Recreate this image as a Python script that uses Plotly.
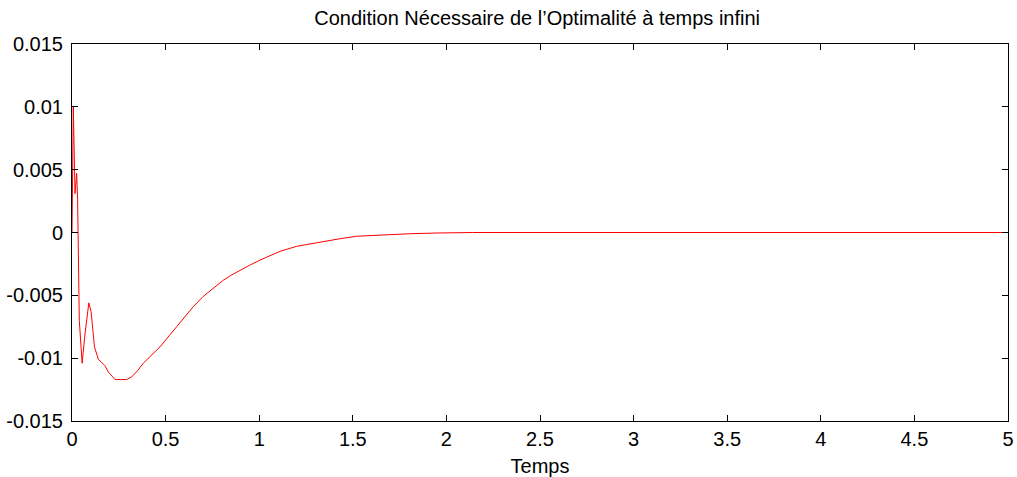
import plotly.graph_objects as go

# Time samples (s) and values
temps = [0.0, 0.007, 0.016, 0.025, 0.030, 0.039, 0.054, 0.070, 0.090, 0.102, 0.120,
         0.141, 0.156, 0.176, 0.194, 0.230, 0.260, 0.292, 0.318, 0.350, 0.381, 0.420,
         0.470, 0.520, 0.559, 0.600, 0.648, 0.700, 0.750, 0.808, 0.850, 0.897, 0.950,
         1.004, 1.050, 1.111, 1.200, 1.270, 1.342, 1.430, 1.520, 1.645, 1.800, 1.950,
         2.140, 2.500, 3.000, 3.500, 4.000, 4.500, 5.000]
valeurs = [0.0, 0.0100, 0.0031, 0.0047, 0.0026, -0.0070, -0.0104, -0.0080, -0.0056,
           -0.0063, -0.0091, -0.0101, -0.0103, -0.0106, -0.0111, -0.0117, -0.0117,
           -0.0117, -0.0115, -0.0110, -0.0104, -0.0098, -0.0091, -0.0082, -0.0075,
           -0.0067, -0.0059, -0.0051, -0.0045, -0.0038, -0.0034, -0.0030, -0.0026,
           -0.0022, -0.0019, -0.0015, -0.0011, -0.0009, -0.0007, -0.0005, -0.0003,
           -0.0002, -0.0001, -0.00004, 0.0, 0.0, 0.0, 0.0, 0.0, 0.0, 0.0]

x_ticks = [0, 0.5, 1, 1.5, 2, 2.5, 3, 3.5, 4, 4.5, 5]
x_labels = ["0", "0.5", "1", "1.5", "2", "2.5", "3", "3.5", "4", "4.5", "5"]
y_ticks = [-0.015, -0.01, -0.005, 0, 0.005, 0.01, 0.015]
y_labels = ["-0.015", "-0.01", "-0.005", "0", "0.005", "0.01", "0.015"]

fam = "Liberation Sans, Arial, sans-serif"
fig = go.Figure()
fig.add_trace(go.Scatter(x=temps, y=valeurs, mode="lines",
                         line=dict(color="#ff0000", width=1), showlegend=False))

fig.update_layout(
    width=1017, height=477,
    margin=dict(l=72, r=9, t=44, b=56),
    paper_bgcolor="white", plot_bgcolor="white",
    font=dict(family=fam, size=20, color="black"),
    title=dict(text="Condition Nécessaire de l’Optimalité à temps infini",
               x=0.497, xref="paper", xanchor="center", y=0.962, yanchor="middle",
               font=dict(size=20, color="black", family=fam)),
)
fig.update_xaxes(range=[0, 5], tickvals=x_ticks, ticktext=x_labels, automargin=False,
                 tickfont=dict(size=20, family=fam, color="black"),
                 showgrid=False, zeroline=False, showline=True, linecolor="black",
                 linewidth=1, mirror="ticks", ticks="inside", ticklen=6,
                 tickcolor="black",
                 title=dict(text="Temps", standoff=9,
                            font=dict(size=20, family=fam, color="black")))
fig.update_yaxes(range=[-0.015, 0.015], tickvals=y_ticks, ticktext=y_labels,
                 automargin=False,
                 tickfont=dict(size=20, family=fam, color="black"),
                 ticklabelstandoff=4,
                 showgrid=False, zeroline=False, showline=True, linecolor="black",
                 linewidth=1, mirror="ticks", ticks="inside", ticklen=6,
                 tickcolor="black")

fig.write_html("out.html")
